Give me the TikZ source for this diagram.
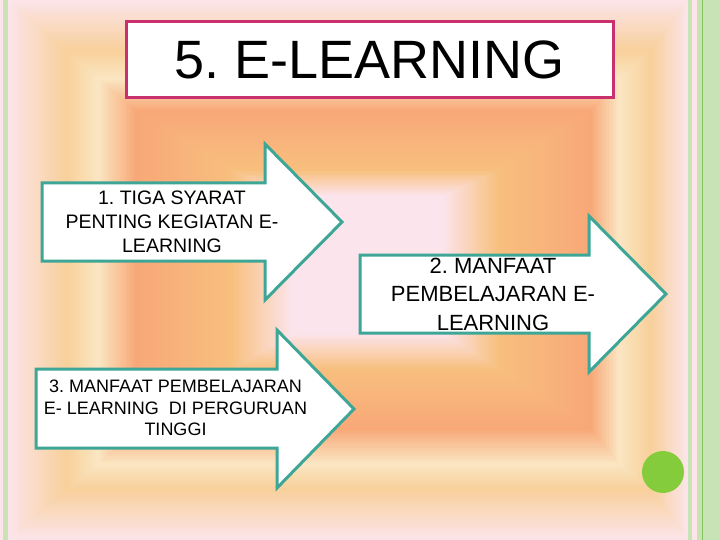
\documentclass[tikz,border=0pt]{standalone}
\usepackage{fontspec}
\setmainfont{Liberation Sans}
\frenchspacing

\definecolor{bgpink}{HTML}{FCE4E8}
\definecolor{bgpeach}{HTML}{F8D09A}
\definecolor{bgcream}{HTML}{FAE6C2}
\definecolor{bgorange}{HTML}{F8A878}
\definecolor{bglight}{HTML}{F8C07E}
\definecolor{bgcentre}{HTML}{FCE4EC}
\definecolor{stripegreen}{HTML}{C8E4B6}
\definecolor{linegreen}{HTML}{84C45A}
\definecolor{arrowteal}{HTML}{3DA696}
\definecolor{titlerose}{HTML}{C8306E}
\definecolor{dotgreen}{HTML}{84CC3C}

\tikzset{
	arrowbox/.style={draw=arrowteal,line width=3pt,fill=white,line join=miter},
	arrowtext/.style={align=center,inner sep=0,outer sep=0},
	titlebox/.style={draw=titlerose,line width=3pt,fill=white,inner sep=0,minimum width=487pt,minimum height=76pt}
}

\begin{document}
\begin{tikzpicture}[x=1pt,y=-1pt]
	\useasboundingbox (0,0) rectangle (720,540);
	\fill[bgpink] (0,0) rectangle (720,540);
	% background bands, outer to inner
	\foreach \xl/\yt/\xr/\yb/\Xl/\Yt/\Xr/\Yb/\ca/\cb in {
		8/0/688/540/65/50/652/490/bgpink/bgpeach,
		65/50/652/490/97/78/620/465/bgpeach/bgcream,
		97/78/620/465/135/110/592/430/bgcream/bgorange,
		135/110/592/430/230/170/500/370/bgorange/bglight,
		230/170/500/370/290/195/445/335/bglight/bgcentre}
	{
		\foreach \i in {0,...,19}{
			\pgfmathsetmacro\s{\i/20}
			\pgfmathtruncatemacro\p{100*\s}
			\fill[\cb!\p!\ca] ({\xl+(\Xl-\xl)*\s},{\yt+(\Yt-\yt)*\s}) rectangle ({\xr+(\Xr-\xr)*\s},{\yb+(\Yb-\yb)*\s});
		}
	}
	\fill[bgcentre] (290,195) rectangle (445,335);
	% green stripes
	\fill[stripegreen] (3,0) rectangle (8,540);
	\fill[stripegreen] (688,0) rectangle (692,540);
	\fill[stripegreen] (697,0) rectangle (720,540);
	\draw[linegreen,line width=1.2pt] (702.5,0) -- (702.5,540);

	\node[titlebox,font=\fontsize{54}{60}\selectfont] (title) at (369.5,59.5) {5. E-LEARNING};

	\draw[arrowbox] (42,183) -- (265,183) -- (265,144) -- (342,222) -- (265,300) -- (265,261) -- (42,261) -- cycle;
	\draw[arrowbox] (360,255) -- (589,255) -- (589,216) -- (666,294) -- (589,372) -- (589,333) -- (360,333) -- cycle;
	\draw[arrowbox] (36,369) -- (277,369) -- (277,330) -- (354,409) -- (277,488) -- (277,448) -- (36,448) -- cycle;

	\node[arrowtext,font=\fontsize{19.5}{24}\selectfont] (syarat) at (172,222) {1. TIGA SYARAT\\PENTING KEGIATAN E-\\LEARNING};
	\node[arrowtext,font=\fontsize{22}{28.5}\selectfont] (manfaat) at (493,294) {2. MANFAAT\\PEMBELAJARAN E-\\LEARNING};
	\node[arrowtext,font=\fontsize{18}{21.5}\selectfont] (tinggi) at (175.5,408) {3. MANFAAT PEMBELAJARAN\\E- LEARNING\ \ DI PERGURUAN\\TINGGI};

	\fill[dotgreen] (663,472) circle (21);
\end{tikzpicture}
\end{document}
